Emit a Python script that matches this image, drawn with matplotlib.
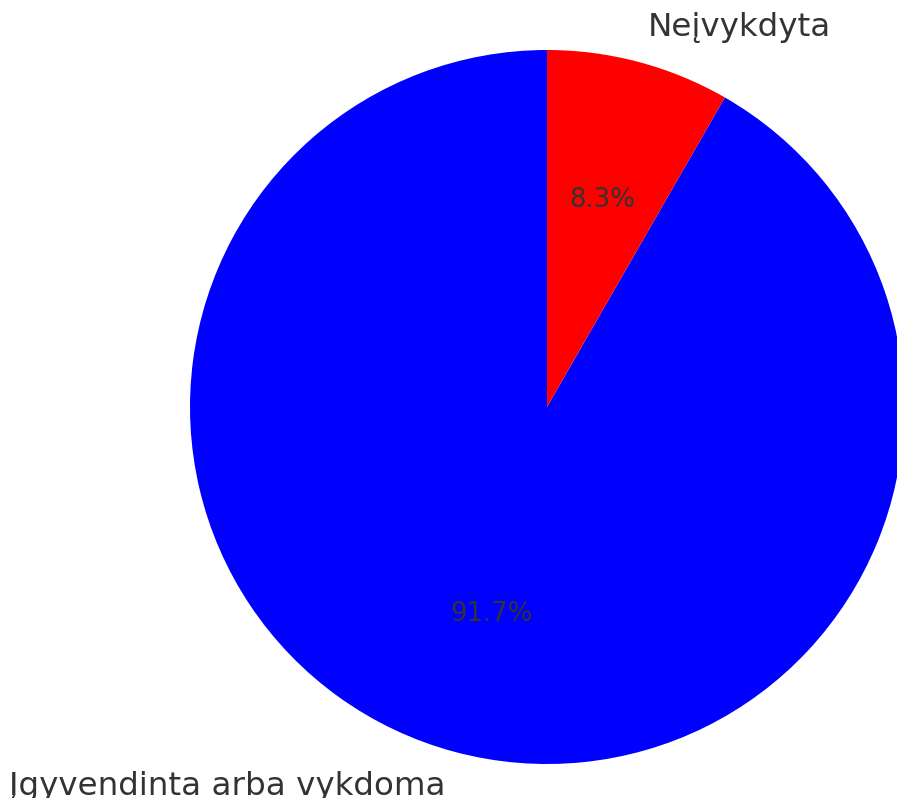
import matplotlib
matplotlib.use("Agg")
import matplotlib.pyplot as plt

# Duomenys
kategorijos = ["Įgyvendinta arba vykdoma", "Neįvykdyta"]
reiksmes = [91.7, 8.3]
spalvos = ["blue", "red"]

fig = plt.figure(figsize=(8.97, 7.98), dpi=100)
# pie centras ~ (547, 406) px, spindulys ~357 px
ax = fig.add_axes([190 / 897, (798 - 764) / 798, 714 / 897, 714 / 798])

wedges, teksts, autoteksts = ax.pie(
    reiksmes,
    labels=kategorijos,
    colors=spalvos,
    autopct="%1.1f%%",
    startangle=90,
    textprops={"color": "#333333", "fontsize": 23.4},
)
for t in autoteksts:
    t.set_fontsize(18.7)

ax.set_xlim(-1, 1)
ax.set_ylim(-1, 1)
ax.set_aspect("equal")
ax.axis("off")

plt.savefig("out.png", dpi=100)
plt.close()
